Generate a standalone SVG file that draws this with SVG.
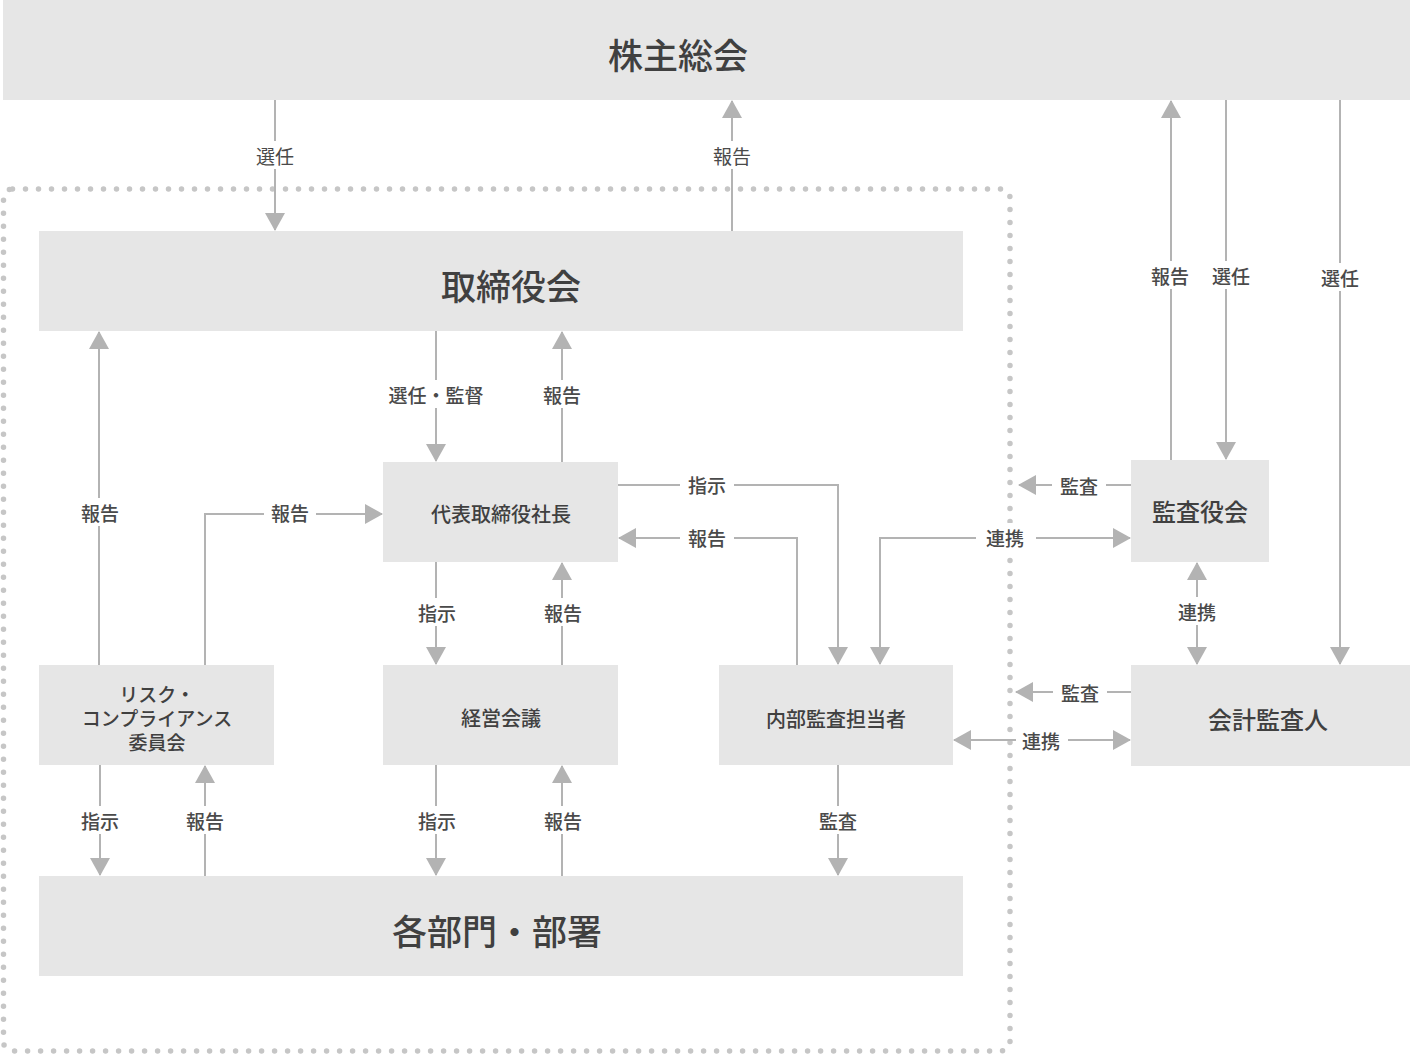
<svg xmlns="http://www.w3.org/2000/svg" width="1410" height="1054" viewBox="0 0 1410 1054">
<style>
.node{fill:#e6e6e6}
.t{font-family:"Noto Sans CJK JP","Noto Sans",sans-serif;fill:#404040;text-anchor:middle;dominant-baseline:central;font-weight:500}
.big{font-size:35px}
.mid{font-size:24px}
.sm{font-size:20px}
.xs{font-size:19px}
.lb{font-family:"Noto Sans CJK JP","Noto Sans",sans-serif;fill:#4a4a4a;text-anchor:middle;dominant-baseline:central;font-size:19px;font-weight:500}
.lt{font-weight:400}
.c{fill:none;stroke:#b3b3b3;stroke-width:2}
.a{marker-end:url(#ah)}
.b{marker-start:url(#ah);marker-end:url(#ah)}
.bg{fill:#fff}
</style>
<defs>
<marker id="ah" viewBox="0 0 18 20" refX="17" refY="10" markerWidth="18" markerHeight="20" markerUnits="userSpaceOnUse" orient="auto-start-reverse">
<path d="M0,0 L18,10 L0,20 z" fill="#b3b3b3"/>
</marker>
</defs>
<rect width="1410" height="1054" fill="#fff"/>
<rect x="3.5" y="189" width="1006.5" height="862" rx="9" fill="none" stroke="#c6c6c6" stroke-width="5.5" stroke-linecap="round" stroke-dasharray="0 13"/>

<g id="connectors">
<path class="c a" d="M275,100 V230"/>
<path class="c a" d="M732,231 V101"/>
<path class="c a" d="M1171,460 V101"/>
<path class="c a" d="M1226,100 V459"/>
<path class="c a" d="M1340,100 V664"/>
<path class="c a" d="M436,331 V461"/>
<path class="c a" d="M562,462 V332"/>
<path class="c a" d="M99,665 V332"/>
<path class="c a" d="M205,665 V514 H382"/>
<path class="c a" d="M618,485 H838 V664"/>
<path class="c a" d="M797,665 V538 H619"/>
<path class="c b" d="M1130,538 H880 V664"/>
<path class="c a" d="M1131,485 H1019"/>
<path class="c b" d="M1197,563 V664"/>
<path class="c a" d="M1131,692 H1016"/>
<path class="c b" d="M954,740 H1130"/>
<path class="c a" d="M436,562 V664"/>
<path class="c a" d="M562,665 V563"/>
<path class="c a" d="M100,765 V875"/>
<path class="c a" d="M205,876 V766"/>
<path class="c a" d="M436,765 V875"/>
<path class="c a" d="M562,876 V766"/>
<path class="c a" d="M838,765 V875"/>

<rect class="bg" x="251" y="141" width="48" height="28"/><text class="lb lt" x="275" y="155">選任</text>
<rect class="bg" x="708" y="141" width="48" height="28"/><text class="lb lt" x="732" y="155">報告</text>
<rect class="bg" x="1147" y="261" width="48" height="28"/><text class="lb" x="1170" y="275">報告</text>
<rect class="bg" x="1207" y="261" width="48" height="28"/><text class="lb" x="1231" y="275">選任</text>
<rect class="bg" x="1316" y="263" width="48" height="28"/><text class="lb" x="1340" y="277">選任</text>
<rect class="bg" x="380" y="380" width="112" height="28"/><text class="lb" x="436" y="394">選任・監督</text>
<rect class="bg" x="538" y="380" width="48" height="28"/><text class="lb" x="562" y="394">報告</text>
<rect class="bg" x="76" y="498" width="48" height="28"/><text class="lb" x="100" y="512">報告</text>
<rect class="bg" x="264" y="498" width="52" height="28"/><text class="lb" x="290" y="512">報告</text>
<rect class="bg" x="680" y="470" width="54" height="28"/><text class="lb" x="707" y="484">指示</text>
<rect class="bg" x="680" y="523" width="54" height="28"/><text class="lb" x="707" y="537">報告</text>
<rect class="bg" x="976" y="523" width="60" height="28"/><text class="lb" x="1005" y="537">連携</text>
<rect class="bg" x="1052" y="471" width="54" height="28"/><text class="lb" x="1079" y="485">監査</text>
<rect class="bg" x="1173" y="597" width="48" height="28"/><text class="lb" x="1197" y="611">連携</text>
<rect class="bg" x="1053" y="678" width="54" height="28"/><text class="lb" x="1080" y="692">監査</text>
<rect class="bg" x="1016" y="726" width="52" height="28"/><text class="lb" x="1041" y="740">連携</text>
<rect class="bg" x="412" y="598" width="48" height="28"/><text class="lb" x="437" y="612">指示</text>
<rect class="bg" x="539" y="598" width="48" height="28"/><text class="lb" x="563" y="612">報告</text>
<rect class="bg" x="76" y="806" width="48" height="28"/><text class="lb" x="100" y="820">指示</text>
<rect class="bg" x="181" y="806" width="48" height="28"/><text class="lb" x="205" y="820">報告</text>
<rect class="bg" x="412" y="806" width="48" height="28"/><text class="lb" x="437" y="820">指示</text>
<rect class="bg" x="539" y="806" width="48" height="28"/><text class="lb" x="563" y="820">報告</text>
<rect class="bg" x="814" y="806" width="48" height="28"/><text class="lb" x="838" y="820">監査</text>
</g>

<g id="n-shareholders"><rect class="node" x="3" y="0" width="1407" height="100"/><text class="t big" x="678" y="53">株主総会</text></g>
<g id="n-board"><rect class="node" x="39" y="231" width="924" height="100"/><text class="t big" x="511" y="284">取締役会</text></g>
<g id="n-president"><rect class="node" x="383" y="462" width="235" height="100"/><text class="t sm" x="501" y="513">代表取締役社長</text></g>
<g id="n-risk"><rect class="node" x="39" y="665" width="235" height="100"/><text class="t xs" x="157" y="693">リスク・</text><text class="t xs" x="157" y="717">コンプライアンス</text><text class="t xs" x="157" y="741">委員会</text></g>
<g id="n-mgmt"><rect class="node" x="383" y="665" width="235" height="100"/><text class="t sm" x="501" y="717">経営会議</text></g>
<g id="n-internal"><rect class="node" x="719" y="665" width="234" height="100"/><text class="t sm" x="836" y="718">内部監査担当者</text></g>
<g id="n-depts"><rect class="node" x="39" y="876" width="924" height="100"/><text class="t big" x="497" y="929">各部門・部署</text></g>
<g id="n-auditboard"><rect class="node" x="1131" y="460" width="138" height="102"/><text class="t mid" x="1200" y="510">監査役会</text></g>
<g id="n-accountant"><rect class="node" x="1131" y="665" width="279" height="101"/><text class="t mid" x="1268" y="718">会計監査人</text></g>
</svg>
